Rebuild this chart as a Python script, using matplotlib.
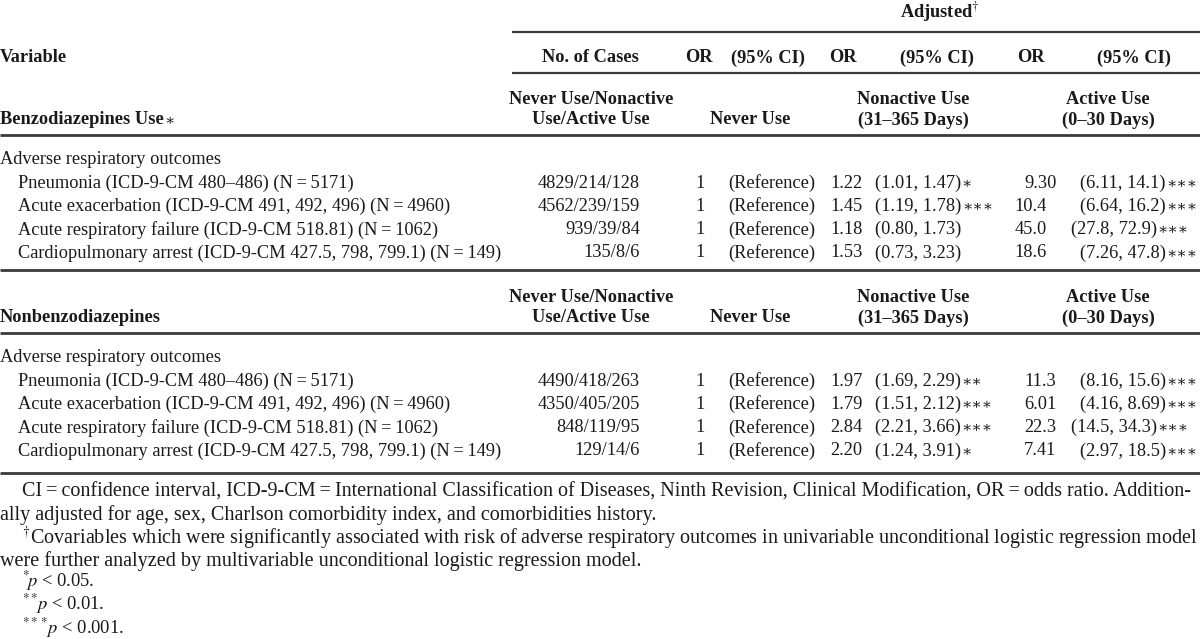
import matplotlib
matplotlib.use("Agg")
import matplotlib.pyplot as plt

plt.rcParams['font.family'] = ['Liberation Serif', 'DejaVu Serif']
plt.rcParams['mathtext.fontset'] = 'stix'

# ---------------- data ----------------
outcomes = [
    "Pneumonia (ICD-9-CM 480\u2013486) (N\u2009=\u20095171)",
    "Acute exacerbation (ICD-9-CM 491, 492, 496) (N\u2009=\u20094960)",
    "Acute respiratory failure (ICD-9-CM 518.81) (N\u2009=\u20091062)",
    "Cardiopulmonary arrest (ICD-9-CM 427.5, 798, 799.1) (N\u2009=\u2009149)",
]
group_titles = ["Benzodiazepines Use", "Nonbenzodiazepines"]
group_title_marks = ["\u2217", ""]
section_label = "Adverse respiratory outcomes"

benzo_cases = ["4829/214/128", "4562/239/159", "939/39/84", "135/8/6"]
benzo_or_nonactive = [1.22, 1.45, 1.18, 1.53]
benzo_ci_nonactive = [(1.01, 1.47), (1.19, 1.78), (0.80, 1.73), (0.73, 3.23)]
benzo_star_nonactive = [1, 3, 0, 0]
benzo_or_active = [9.30, 10.4, 45.0, 18.6]
benzo_ci_active = [(6.11, 14.1), (6.64, 16.2), (27.8, 72.9), (7.26, 47.8)]
benzo_star_active = [3, 3, 3, 3]

nonbenzo_cases = ["4490/418/263", "4350/405/205", "848/119/95", "129/14/6"]
nonbenzo_or_nonactive = [1.97, 1.79, 2.84, 2.20]
nonbenzo_ci_nonactive = [(1.69, 2.29), (1.51, 2.12), (2.21, 3.66), (1.24, 3.91)]
nonbenzo_star_nonactive = [2, 3, 3, 1]
nonbenzo_or_active = [11.3, 6.01, 22.3, 7.41]
nonbenzo_ci_active = [(8.16, 15.6), (4.16, 8.69), (14.5, 34.3), (2.97, 18.5)]
nonbenzo_star_active = [3, 3, 3, 3]

col_headers = ["No. of Cases", "OR", "(95% CI)", "OR", "(95% CI)", "OR", "(95% CI)"]
sub_headers = ["Never Use/Nonactive\nUse/Active Use", "Never Use",
               "Nonactive Use\n(31\u2013365 Days)", "Active Use\n(0\u201330 Days)"]

footnote1a = "CI\u2009=\u2009confidence interval, ICD-9-CM\u2009=\u2009International Classification of Diseases, Ninth Revision, Clinical Modification, OR\u2009=\u2009odds ratio. Addition-"
footnote1b = "ally adjusted for age, sex, Charlson comorbidity index, and comorbidities history."
footnote2a = "Covariables which were significantly associated with risk of adverse respiratory outcomes in univariable unconditional logistic regression model"
footnote2b = "were further analyzed by multivariable unconditional logistic regression model."
p_notes = [("*", "0.05."), ("**", "0.01."), ("***", "0.001.")]

# ---------------- helpers ----------------
def fmt(v):
    return f"{v:.2f}" if v < 10 else f"{v:.1f}"

def fmt_ci(ci):
    return f"({fmt(ci[0])}, {fmt(ci[1])})"

W, H = 1200, 639
fig = plt.figure(figsize=(W / 100, H / 100), dpi=100)
ax = fig.add_axes([0, 0, 1, 1])
ax.set_xlim(0, W)
ax.set_ylim(H, 0)
ax.axis('off')

FS = 13.2
TC = '#1a1a1a'
LC = '#3a3a3a'
digit_pt = 0.5 * FS  # width of a digit in points

def txt(x, y, s, ha='left', bold=False, fs=FS, **kw):
    return ax.text(x, y, s, ha=ha, va='center', fontsize=fs, color=TC,
                   fontweight='bold' if bold else 'normal', **kw)

def txt_shift(x, y, s, ndig, ha='left'):
    return ax.annotate(s, xy=(x, y), xytext=(-(ndig - 1) * digit_pt, 0),
                       textcoords='offset points', ha=ha, va='center',
                       fontsize=FS, color=TC)

def add_stars(t, n):
    if n:
        ax.annotate("\u2217" * n, xy=(1, 0.5), xycoords=t, xytext=(0.5, 0),
                    textcoords='offset points', ha='left', va='center',
                    fontsize=11, color=TC, family='DejaVu Serif')

def hline(y, x0=0, x1=W, lw=1.6):
    ax.plot([x0, x1], [y, y], color=LC, lw=lw, solid_capstyle='butt')

# ---------------- header ----------------
txt(940, 12, "Adjusted$^{\\dagger}$", ha='center', bold=True)
hline(32, 512, W, lw=1.6)
txt(0, 58, "Variable", bold=True)
hdr_x = [590, 699, 768, 843, 937, 1031, 1134]
for x, s in zip(hdr_x, col_headers):
    txt(x, 58, s, ha='center', bold=True)
hline(73, 512, W, lw=1.6)

sub_x = [591, 750, 913, 1108]

def draw_block(y_top, title, mark, cases, or_na, ci_na, st_na, or_a, ci_a, st_a, decimal_align):
    t = txt(0, y_top + 20, title, bold=True)
    if mark:
        ax.annotate(mark, xy=(1, 0.5), xycoords=t, xytext=(0.5, 0),
                    textcoords='offset points', ha='left', va='center',
                    fontsize=11, color=TC, family='DejaVu Serif')
    for x, s in zip(sub_x, sub_headers):
        lines = s.split("\n")
        if len(lines) == 2:
            txt(x, y_top, lines[0], ha='center', bold=True)
            txt(x, y_top + 20, lines[1], ha='center', bold=True)
        else:
            txt(x, y_top + 20, lines[0], ha='center', bold=True)
    hline(y_top + 35, lw=2.0)
    txt(0, y_top + 60, section_label)
    for i, name in enumerate(outcomes):
        y = y_top + 83 + i * 23.3
        txt(18, y, name)
        txt(640, y, cases[i], ha='right')
        txt(700, y, "1", ha='center')
        txt(728, y, "(Reference)")
        txt(830, y, fmt(or_na[i]))
        t1 = txt(875, y, fmt_ci(ci_na[i]))
        add_stars(t1, st_na[i])
        s = fmt(or_a[i])
        if decimal_align:
            txt_shift(1024, y, s, len(s.split('.')[0]))
        else:
            txt(1024, y, s)
        t2 = txt_shift(1080, y, fmt_ci(ci_a[i]), len(fmt(ci_a[i][0]).split('.')[0]))
        add_stars(t2, st_a[i])

draw_block(100, group_titles[0], group_title_marks[0], benzo_cases, benzo_or_nonactive,
           benzo_ci_nonactive, benzo_star_nonactive, benzo_or_active, benzo_ci_active,
           benzo_star_active, True)
hline(270, lw=2.0)
draw_block(298, group_titles[1], group_title_marks[1], nonbenzo_cases, nonbenzo_or_nonactive,
           nonbenzo_ci_nonactive, nonbenzo_star_nonactive, nonbenzo_or_active,
           nonbenzo_ci_active, nonbenzo_star_active, False)
hline(473, lw=2.0)

# ---------------- footnotes ----------------
FN = 14.5
txt(22, 492, footnote1a, fs=FN)
txt(0, 515, footnote1b, fs=FN)
txt(22, 538, "$^{\\dagger}$" + footnote2a, fs=FN)
txt(0, 561, footnote2b, fs=FN)
for i, (st, val) in enumerate(p_notes):
    y = 581 + i * 23.5
    txt(22, y, "${}^{" + st + "}\\!p$ < " + val, fs=13.3)

fig.savefig("out.png", dpi=100)
